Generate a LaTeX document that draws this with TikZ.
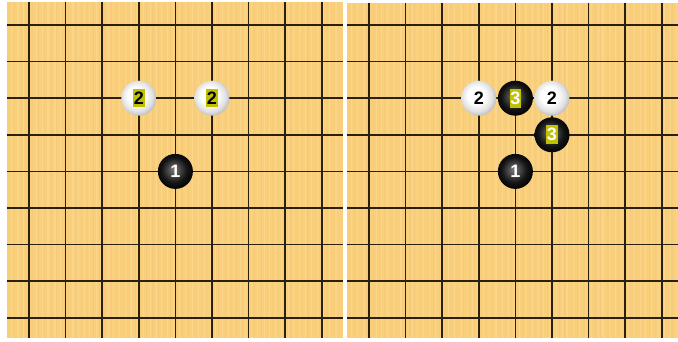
\documentclass[tikz,border=0pt]{standalone}
\usepackage{fontspec}
\setsansfont{Liberation Sans}
\usetikzlibrary{positioning}
\definecolor{Wood}{HTML}{F9CF7C}
\definecolor{WoodLight}{HTML}{FCDB98}
\definecolor{WoodDark}{HTML}{F3C670}
\definecolor{Grid}{HTML}{2A2012}
\definecolor{Tag}{HTML}{C0C200}
\pgfdeclareradialshading{whiteball}{\pgfpoint{-5bp}{5bp}}{color(0bp)=(white); color(12bp)=(white); color(22bp)=(black!12); color(30bp)=(black!32); color(40bp)=(black!50); color(50bp)=(black!55)}
\pgfdeclareradialshading{blackball}{\pgfpoint{-3bp}{3bp}}{color(0bp)=(black!52); color(7bp)=(black!68); color(18bp)=(black!92); color(28bp)=(black); color(50bp)=(black)}

\begin{document}
\begin{tikzpicture}[x=1pt, y=-1pt,
  gridline/.style={Grid, line width=1.5pt},
  whitestone/.style={circle, minimum size=35pt, inner sep=0pt, shading=whiteball},
  blackstone/.style={circle, minimum size=35pt, inner sep=0pt, shading=blackball},
  num/.style={font=\sffamily\bfseries\fontsize{18}{18}\selectfont, inner sep=0pt},
  tag/.style={num, fill=Tag, inner xsep=0.8pt, inner ysep=3pt}]
\useasboundingbox[fill=white] (0,0) rectangle (678,342);
\pgfmathsetseed{7}
% two boards, the second one shifted right
\foreach \bx/\by in {0/2, 340/3} {
  \begin{scope}[xshift=\bx]
    \fill[Wood] (7,\by) rectangle (338,338);
    \foreach \i in {0,...,109} {
      \pgfmathsetmacro\xx{8+3*\i+2*rnd}
      \pgfmathsetmacro\ww{0.4+1.2*rnd}
      \ifodd\i
        \draw[WoodLight, line width=\ww pt, opacity=0.5] (\xx,\by) -- (\xx,338);
      \else
        \draw[WoodDark, line width=\ww pt, opacity=0.35] (\xx,\by) -- (\xx,338);
      \fi
    }
    \foreach \k in {0,...,8} {
      \draw[gridline] (29+36.6*\k,\by) -- (29+36.6*\k,338);
      \draw[gridline] (7,25+36.6*\k) -- (338,25+36.6*\k);
    }
  \end{scope}
}
\fill[Wood] (338,2) rectangle (342.5,338);
\foreach \k in {0,...,8} \draw[gridline] (338,25+36.6*\k) -- (342.5,25+36.6*\k);

% left board
\node[whitestone] (wA) at (138.8,98.2) {};
\node[whitestone] (wB) at (212.0,98.2) {};
\node[blackstone] (bA) at (175.4,171.4) {};
\node[tag, text=black] (tA) at (wA) {2};
\node[tag, text=black] (tB) at (wB) {2};
\node[num, text=white] (nA) at (bA) {1};

% right board
\node[whitestone] (wC) at (478.8,98.2) {};
\node[blackstone] (bC) at (515.4,98.2) {};
\node[whitestone] (wD) at (552.0,98.2) {};
\node[blackstone] (bD) at (552.0,134.8) {};
\node[blackstone] (bE) at (515.4,171.4) {};
\node[num, text=black] (nC) at (wC) {2};
\node[tag, text=white] (tC) at (bC) {3};
\node[num, text=black] (nD) at (wD) {2};
\node[tag, text=white] (tD) at (bD) {3};
\node[num, text=white] (nE) at (bE) {1};
\end{tikzpicture}
\end{document}
